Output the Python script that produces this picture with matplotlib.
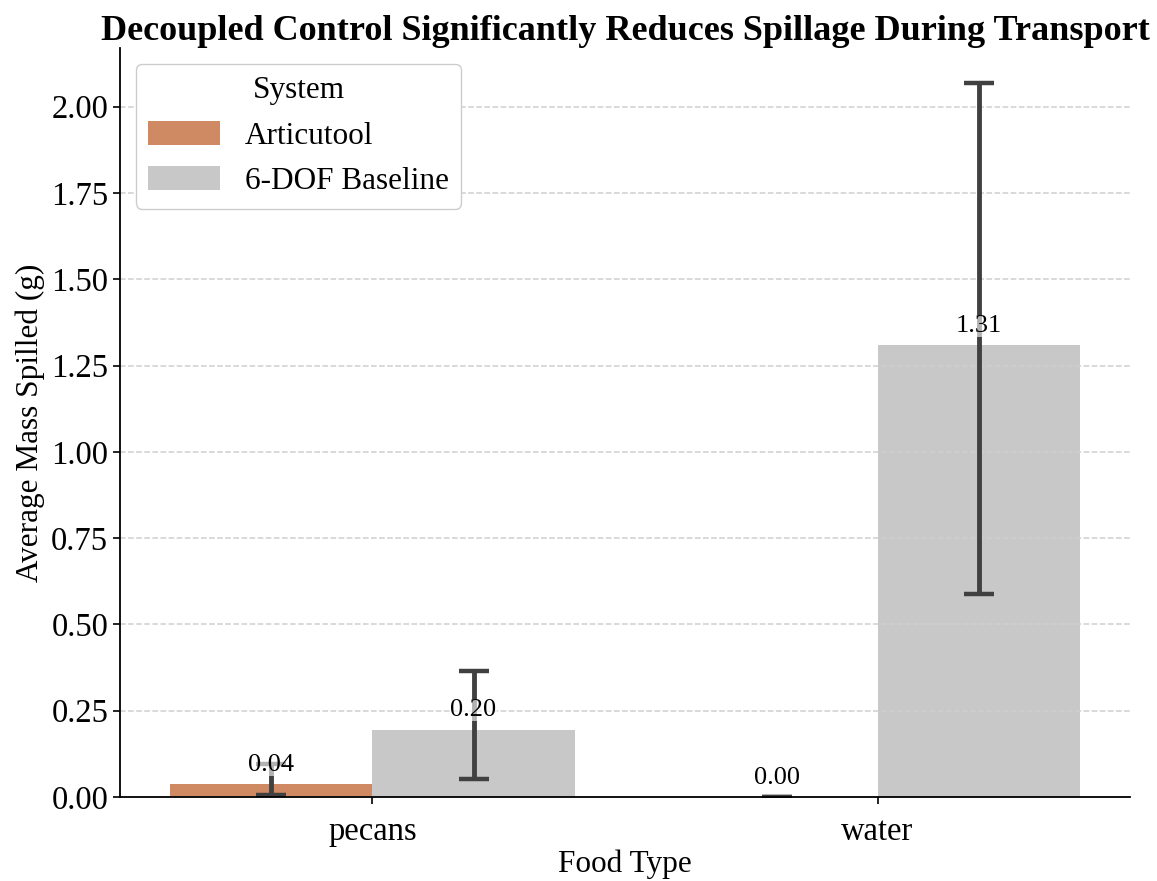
import numpy as np
import matplotlib
matplotlib.use('Agg')
import matplotlib.pyplot as plt

plt.rcParams['font.family'] = ['Liberation Serif', 'DejaVu Serif']

# data
foods = ['pecans', 'water']
systems = ['Articutool', '6-DOF Baseline']
means = {'Articutool': [0.037, 0.0],
         '6-DOF Baseline': [0.195, 1.31]}
ci_low = {'Articutool': [0.006, 0.0],
          '6-DOF Baseline': [0.053, 0.588]}
ci_high = {'Articutool': [0.096, 0.0],
           '6-DOF Baseline': [0.365, 2.068]}
colors = {'Articutool': '#CF8963', '6-DOF Baseline': '#C8C8C8'}

fig, ax = plt.subplots(figsize=(11.57, 8.81), dpi=100)
fig.subplots_adjust(left=0.1037, right=0.9767, bottom=0.0953, top=0.9455)

x = np.arange(len(foods))
width = 0.4
ax.set_axisbelow('line')
ax.grid(axis='y', linestyle='--', color='#cfcfcf', linewidth=1.1)

for i, s in enumerate(systems):
    pos = x + (i - 0.5) * width
    m = np.array(means[s])
    err = np.array([m - np.array(ci_low[s]), np.array(ci_high[s]) - m])
    ax.bar(pos, m, width=width, color=colors[s], label=s, zorder=1)
    ax.errorbar(pos, m, yerr=err, fmt='none', ecolor='#404040',
                elinewidth=3.5, capsize=11, capthick=3.2, zorder=2)
    for p, v in zip(pos, m):
        ax.annotate(f'{v:.2f}', (p, v), xytext=(0, 6), textcoords='offset points',
                    ha='center', va='bottom', fontsize=19, zorder=3,
                    bbox=dict(facecolor='white', edgecolor='none', alpha=0.6, pad=0))

ax.set_xticks(x)
ax.set_xticklabels(foods)
ax.set_xlim(-0.5, 1.5)
ax.set_ylim(0, 2.17)
ax.set_yticks(np.arange(0, 2.01, 0.25))
ax.yaxis.set_major_formatter(matplotlib.ticker.FormatStrFormatter('%.2f'))
ax.tick_params(axis='both', labelsize=23.5, width=1.2, length=5)
ax.tick_params(axis='x', pad=9)

ax.set_xlabel('Food Type', fontsize=22.5, labelpad=2)
ax.set_ylabel('Average Mass Spilled (g)', fontsize=22.5)
ax.set_title('Decoupled Control Significantly Reduces Spillage During Transport',
             fontsize=26, fontweight='bold', pad=5)

for side in ['top', 'right']:
    ax.spines[side].set_visible(False)
for side in ['left', 'bottom']:
    ax.spines[side].set_linewidth(1.3)

ax.legend(title='System', loc='upper left', fontsize=22.5, title_fontsize=22.5,
          handlelength=2.3, handleheight=0.8, borderpad=0.4, framealpha=1)

plt.savefig('out.png', dpi=100)
